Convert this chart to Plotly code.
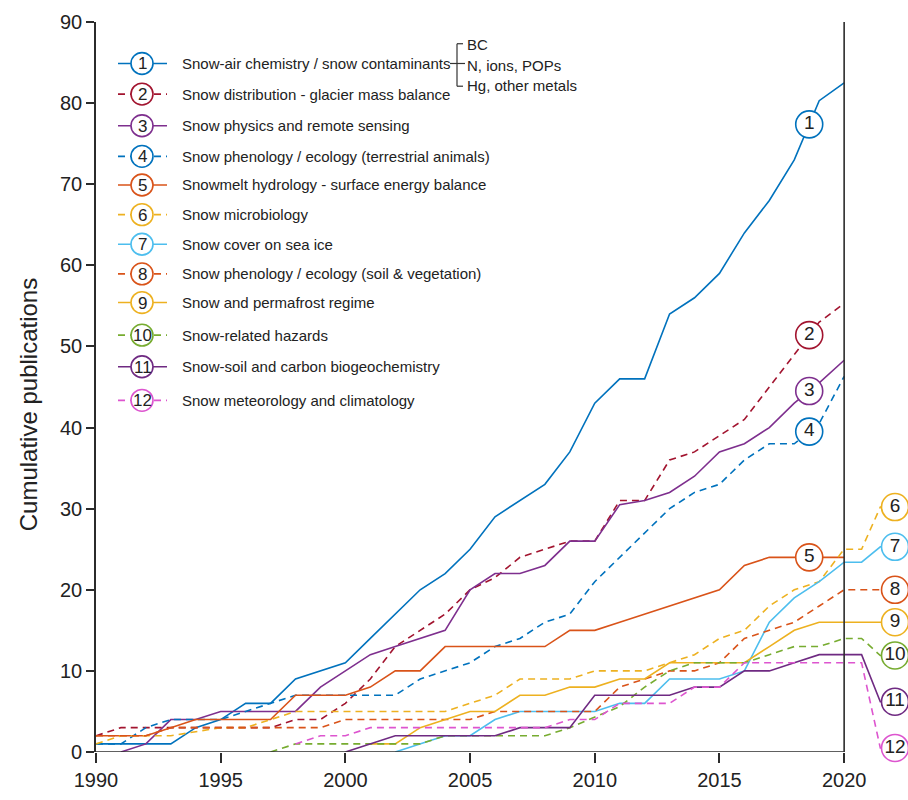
import plotly.graph_objects as go

# ---------------- data ----------------
years = list(range(1990, 2021))
N = None
s1 = [1, 1, 1, 1, 3, 4, 6, 6, 9, 10, 11, 14, 17, 20, 22, 25, 29, 31, 33, 37, 43, 46, 46, 54, 56, 59, 64, 68, 73, 80.3, 82.5]
s2 = [2, 3, 3, 3, 3, 3, 3, 3, 4, 4, 6, 9, 13, 15, 17, 20, 21.5, 24, 25, 26, 26, 31, 31, 36, 37, 39, 41, 45, 49, 53, 55.3]
s3 = [N, 0, 1, 4, 4, 5, 5, 5, 5, 8, 10, 12, 13, 14, 15, 20, 22, 22, 23, 26, 26, 30.5, 31, 32, 34, 37, 38, 40, 43, 45.5, 48.3]
s4 = [1, 1, 3, 4, 4, 4, 5, 6, 7, 7, 7, 7, 7, 9, 10, 11, 13, 14, 16, 17, 21, 24, 27, 30, 32, 33, 36, 38, 38, 40.5, 46.3]
s5 = [2, 2, 2, 3, 4, 4, 4, 4, 7, 7, 7, 8, 10, 10, 13, 13, 13, 13, 13, 15, 15, 16, 17, 18, 19, 20, 23, 24, 24, 24, 24]
s6 = [1, 2, 2, 2, 2.5, 3, 3, 4, 5, 5, 5, 5, 5, 5, 5, 6, 7, 9, 9, 9, 10, 10, 10, 11, 12, 14, 15, 18, 20, 21, 25]
s7 = [N] * 12 + [0, 1, 2, 2, 4, 5, 5, 5, 5, 6, 6, 9, 9, 9, 10, 16, 19, 21, 23.4]
s8 = [2, 2, 2, 3, 3, 3, 3, 3, 3, 3, 4, 4, 4, 4, 4, 4, 5, 5, 5, 5, 5, 8, 9, 10, 10, 11, 14, 15, 16, 18, 20]
s9 = [N] * 11 + [1, 1, 3, 4, 5, 5, 7, 7, 8, 8, 9, 9, 11, 11, 11, 11, 13, 15, 16, 16]
s10 = [N] * 7 + [0, 1, 1, 1, 1, 1, 1, 2, 2, 2, 2, 2, 3, 4.3, 5.6, 8, 10, 11, 11, 11, 12, 13, 13, 14]
s11 = [N] * 10 + [0, 1, 2, 2, 2, 2, 2, 3, 3, 3, 7, 7, 7, 7, 8, 8, 10, 10, 11, 12, 12]
s12 = [N] * 8 + [1, 2, 2, 3, 3, 3, 3, 3, 3, 3, 3, 4, 4, 6, 6, 6, 8, 8, 11, 11, 11, 11, 11]
series = [s1, s2, s3, s4, s5, s6, s7, s8, s9, s10, s11, s12]

names = [
    "Snow-air chemistry / snow contaminants",
    "Snow distribution - glacier mass balance",
    "Snow physics and remote sensing",
    "Snow phenology / ecology (terrestrial animals)",
    "Snowmelt hydrology - surface energy balance",
    "Snow microbiology",
    "Snow cover on sea ice",
    "Snow phenology / ecology (soil & vegetation)",
    "Snow and permafrost regime",
    "Snow-related hazards",
    "Snow-soil and carbon biogeochemistry",
    "Snow meteorology and climatology",
]
sublabels = ["BC", "N, ions, POPs", "Hg, other metals"]
# label y-positions of the outside circled numbers 6..12
outside_label_y = [30.2, 25.3, 20.0, 16.0, 11.9, 6.2, 0.5]
inside_label_year = 2018.6
outside_label_year = 2022.04
x_ticks = [1990, 1995, 2000, 2005, 2010, 2015, 2020]
y_ticks = list(range(0, 91, 10))

# ---------------- styles ----------------
colors = ['#0072BD', '#A2142F', '#7E2F8E', '#0072BD', '#D95319', '#EDB120',
          '#4DBEEE', '#D95319', '#EDB120', '#77AC30', '#6F2A82', '#DD55CF']
dashes = [('solid' if i % 2 == 0 else '7px,5px') for i in range(12)]
FONT = 'Liberation Sans, Arial, sans-serif'

FW, FH = 908, 800
L, T, R, B = 96, 22, 9, 39
W, H = FW - L - R, FH - T - B
XMIN, XMAX = 1990, 2022.2


def px_x(px):
    return (px - L) / W


def px_y(py):
    return 1 - (py - T) / H


def interp(vals, x):
    i = int(x) - years[0]
    f = x - int(x)
    return vals[i] * (1 - f) + vals[i + 1] * f


fig = go.Figure()

for k, vals in enumerate(series):
    xs = [y for y, v in zip(years, vals) if v is not None]
    ys = [v for v in vals if v is not None]
    if k >= 5:
        ly = outside_label_y[k - 5]
        xs = xs + [2020.7, 2021.45, outside_label_year]
        ys = ys + [ys[-1], ly, ly]
    fig.add_trace(go.Scatter(
        x=xs, y=ys, mode='lines',
        line=dict(color=colors[k], width=1.6, dash=dashes[k]),
        showlegend=False, hoverinfo='skip'))

# circled numbers on chart
for k in range(12):
    if k < 5:
        lx, ly = inside_label_year, interp(series[k], inside_label_year)
    else:
        lx, ly = outside_label_year, outside_label_y[k - 5]
    fig.add_trace(go.Scatter(
        x=[lx], y=[ly], mode='markers+text', text=[str(k + 1)],
        textposition='middle center',
        textfont=dict(family=FONT, size=19, color='#222'),
        marker=dict(symbol='circle', size=27, color='white',
                    line=dict(color=colors[k], width=1.6)),
        cliponaxis=False, showlegend=False, hoverinfo='skip'))

shapes = []
annotations = []
axis_col = '#2b2b2b'
# axis frame lines
shapes.append(dict(type='line', xref='x', yref='y', x0=1990, x1=2020, y0=0, y1=0,
                   line=dict(color=axis_col, width=1.6)))
shapes.append(dict(type='line', xref='x', yref='y', x0=2020, x1=2020, y0=0, y1=90,
                   line=dict(color=axis_col, width=1.6)))

# legend
row_y = [64, 95, 127, 158, 187, 217, 247, 277, 306, 339, 371, 405]
for k in range(12):
    cy = row_y[k]
    shapes.append(dict(type='line', xref='paper', yref='paper',
                       x0=px_x(118), x1=px_x(167), y0=px_y(cy), y1=px_y(cy),
                       line=dict(color=colors[k], width=1.6, dash=dashes[k])))
    shapes.append(dict(type='circle', xref='paper', yref='paper',
                       x0=px_x(142 - 11), x1=px_x(142 + 11), y0=px_y(cy + 11), y1=px_y(cy - 11),
                       line=dict(color=colors[k], width=1.6), fillcolor='white'))
    annotations.append(dict(xref='paper', yref='paper', x=px_x(142.5), y=px_y(cy + 0.5),
                            text=str(k + 1), showarrow=False, xanchor='center', yanchor='middle',
                            font=dict(family=FONT, size=17, color='#222')))
    annotations.append(dict(xref='paper', yref='paper', x=px_x(180), y=px_y(cy),
                            text=names[k], showarrow=False, xanchor='left', yanchor='middle',
                            font=dict(family=FONT, size=15, color='#222')))

# bracket for sub-labels
bx = 457
shapes.append(dict(type='line', xref='paper', yref='paper', x0=px_x(450), x1=px_x(465),
                   y0=px_y(64), y1=px_y(64), line=dict(color='#333', width=1.2)))
shapes.append(dict(type='line', xref='paper', yref='paper', x0=px_x(bx), x1=px_x(bx),
                   y0=px_y(44), y1=px_y(87), line=dict(color='#333', width=1.2)))
shapes.append(dict(type='line', xref='paper', yref='paper', x0=px_x(bx), x1=px_x(463),
                   y0=px_y(44), y1=px_y(44), line=dict(color='#333', width=1.2)))
shapes.append(dict(type='line', xref='paper', yref='paper', x0=px_x(bx), x1=px_x(463),
                   y0=px_y(87), y1=px_y(87), line=dict(color='#333', width=1.2)))
for txt, yy in zip(sublabels, [45, 66, 86]):
    annotations.append(dict(xref='paper', yref='paper', x=px_x(465), y=px_y(yy),
                            text=txt, showarrow=False, xanchor='left', yanchor='middle',
                            font=dict(family=FONT, size=15, color='#222')))

# y-axis title
annotations.append(dict(xref='paper', yref='paper', x=px_x(28), y=px_y(410),
                        text='Cumulative publications', textangle=-90, showarrow=False,
                        xanchor='center', yanchor='middle',
                        font=dict(family=FONT, size=24, color='#222')))

fig.update_layout(
    width=FW, height=FH,
    margin=dict(l=L, r=R, t=T, b=B, pad=0),
    paper_bgcolor='white', plot_bgcolor='white',
    shapes=shapes, annotations=annotations,
    font=dict(family=FONT, size=20, color='#222'),
    xaxis=dict(range=[XMIN, XMAX], tickvals=x_ticks, ticks='outside', ticklen=10,
               tickwidth=1.6, tickcolor=axis_col, showgrid=False, zeroline=False,
               showline=False, tickfont=dict(size=20, color='#222')),
    yaxis=dict(range=[0, 90], tickvals=y_ticks, ticks='outside', ticklen=8,
               tickwidth=1.6, tickcolor=axis_col, showgrid=False, zeroline=False,
               showline=True, linecolor=axis_col, linewidth=1.6,
               tickfont=dict(size=20, color='#222')),
)

fig.write_html("out.html", config={'displayModeBar': False},
               post_script="document.body.style.margin='0';")
